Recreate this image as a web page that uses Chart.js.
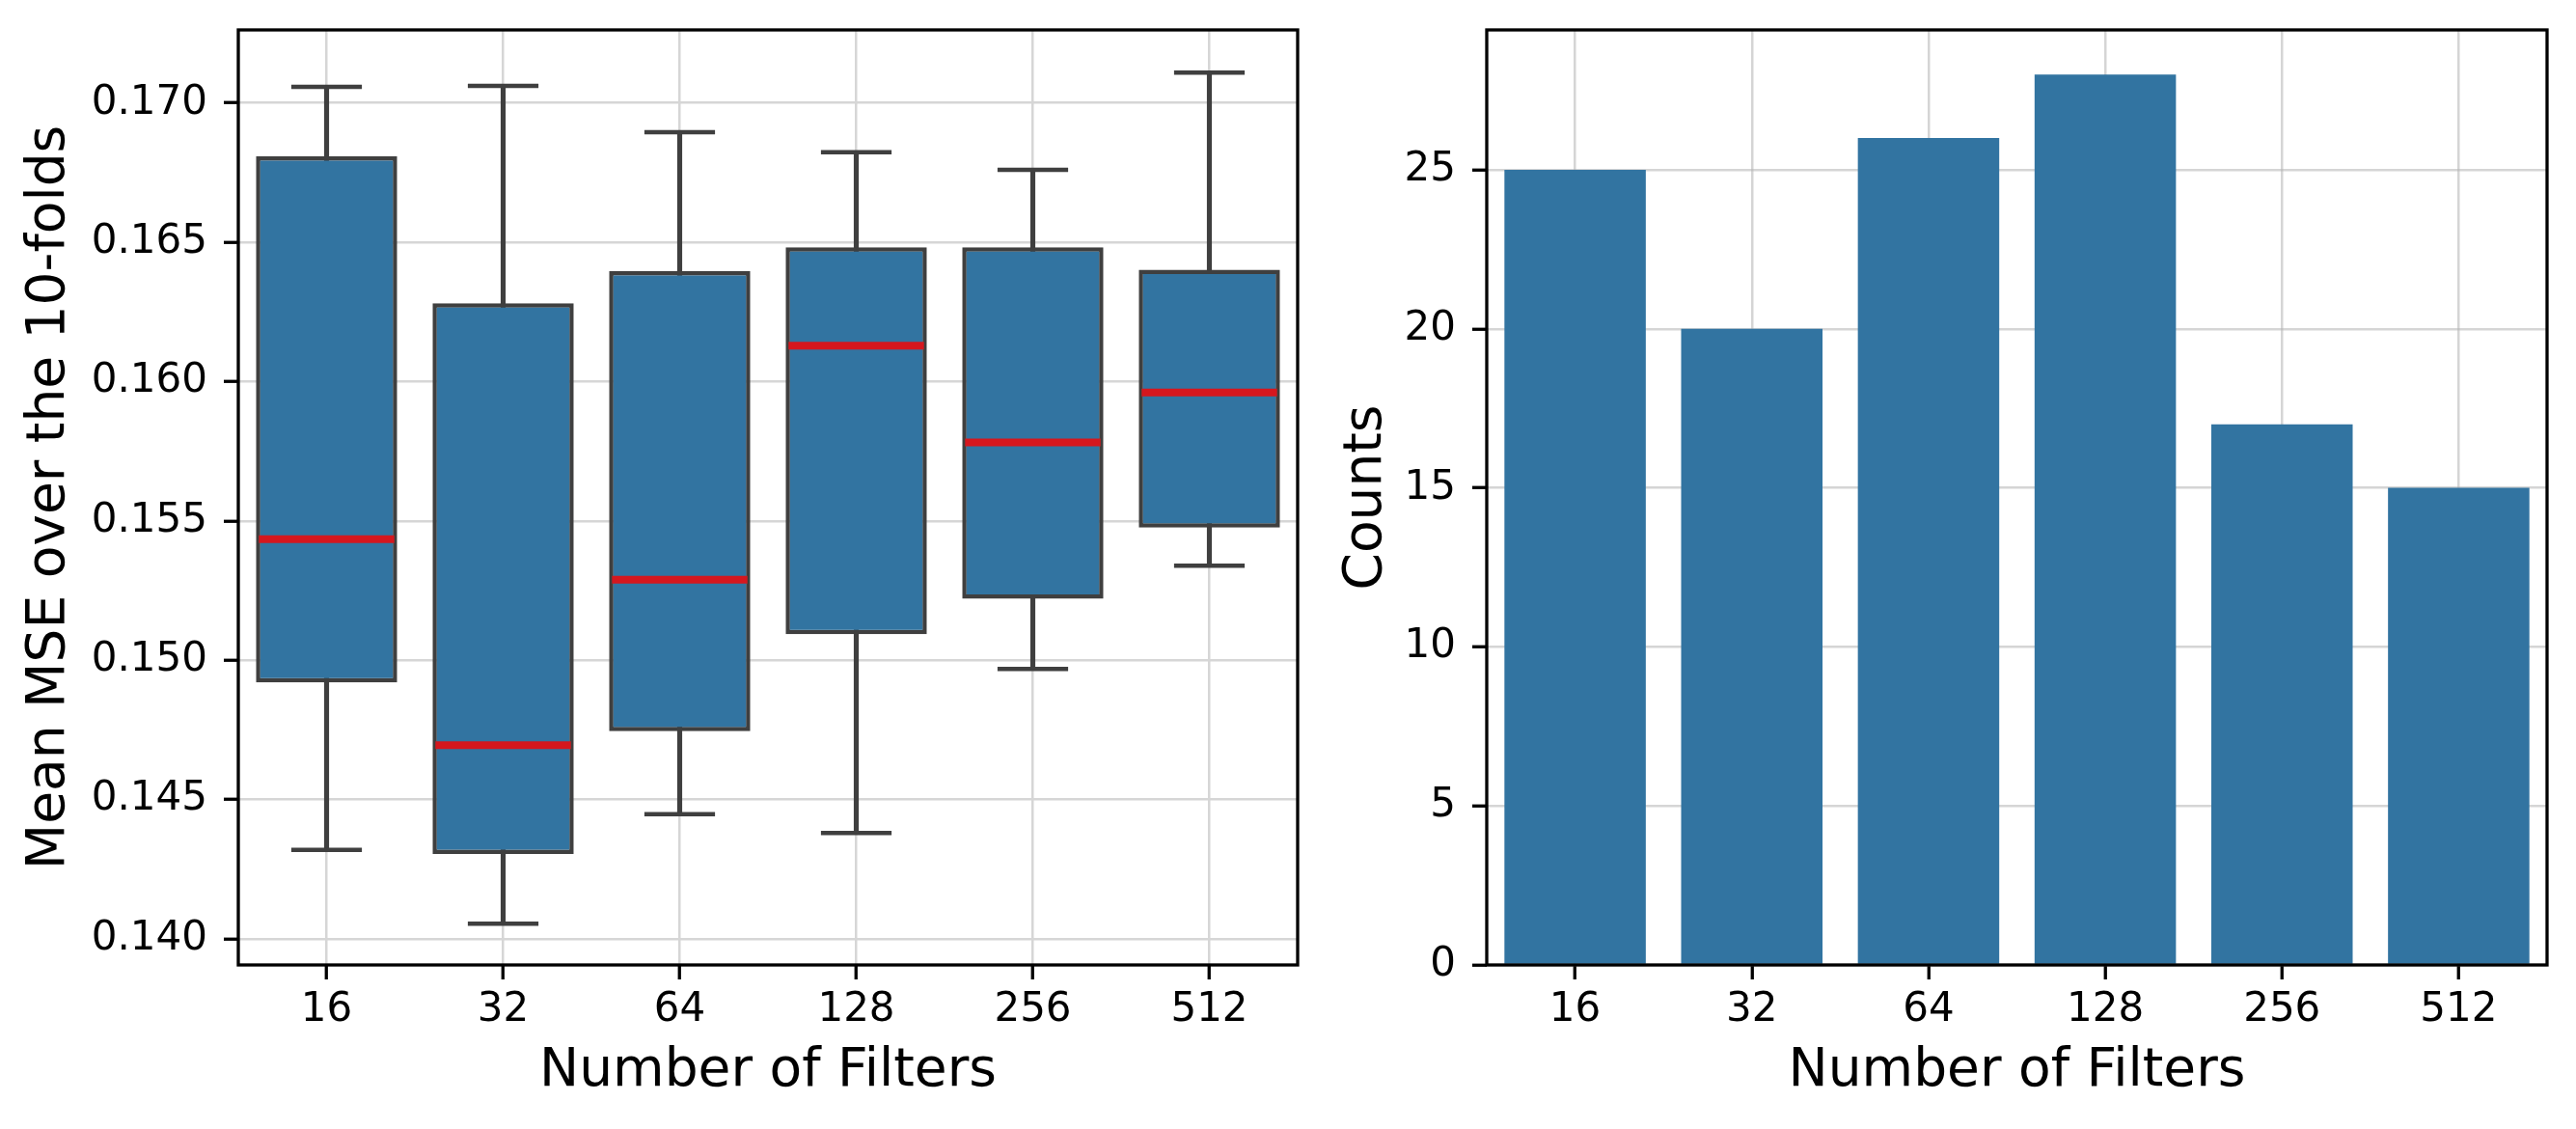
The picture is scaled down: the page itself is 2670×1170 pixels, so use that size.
<!DOCTYPE html>
<html>
<head>
<meta charset="utf-8">
<script src="https://cdn.jsdelivr.net/npm/chart.js@4.4.1/dist/chart.umd.min.js"></script>
<style>
  html, body { margin: 0; padding: 0; background: #fff; }
  body { width: 2670px; height: 1170px; position: relative; overflow: hidden; }
  .panel { position: absolute; top: 0; height: 1170px; }
  #left-panel { left: 0; width: 1400px; }
  #right-panel { left: 1360px; width: 1310px; }
</style>
</head>
<body>
<div class="panel" id="left-panel"><canvas id="box-chart"></canvas></div>
<div class="panel" id="right-panel"><canvas id="count-chart"></canvas></div>
<script>
// data
const filters = ['16', '32', '64', '128', '256', '512'];
const whiskerLow  = [0.14319, 0.14054, 0.14447, 0.14380, 0.14968, 0.15339];
const q1          = [0.14920, 0.14304, 0.14745, 0.15093, 0.15220, 0.15476];
const medians     = [0.15434, 0.14695, 0.15289, 0.16129, 0.15781, 0.15961];
const q3          = [0.16808, 0.16281, 0.16396, 0.16482, 0.16482, 0.16401];
const whiskerHigh = [0.17058, 0.17061, 0.16895, 0.16823, 0.16760, 0.17109];
const mseTicks = [0.140, 0.145, 0.150, 0.155, 0.160, 0.165, 0.170];

const counts = [25, 20, 26, 28, 17, 15];
const countTicks = [0, 5, 10, 15, 20, 25];

// styles
const BLUE = '#3274a1';
const EDGE = '#3f3f3f';
const RED = '#d5171e';
const FONT = 'DejaVu Sans';
const TICK_SIZE = 42;
const LABEL_SIZE = 55;

Chart.defaults.font.family = FONT;
Chart.defaults.color = '#000';
Chart.defaults.animation = false;
Chart.defaults.responsive = true;
Chart.defaults.maintainAspectRatio = false;

// spines around plot area
const framePlugin = {
    id: 'frame',
    afterDraw(chart) {
        const a = chart.chartArea;
        const ctx = chart.ctx;
        ctx.save();
        ctx.strokeStyle = '#000';
        ctx.lineWidth = 3.3;
        ctx.strokeRect(a.left, a.top, a.right - a.left, a.bottom - a.top);
        ctx.restore();
    }
};

function boxWidth(ctx) {
    const xs = ctx.chart.scales.x;
    return xs.width / filters.length * 0.8;
}

function xAxis(gridColor) {
    return {
        type: 'category',
        offset: true,
        afterFit: s => { s.height = 170; s.paddingLeft = 0; s.paddingRight = 0; },
        grid: { offset: false, color: gridColor, lineWidth: 2.5, tickLength: 15, tickColor: '#000', tickWidth: 3.3 },
        border: { display: false },
        ticks: { font: { size: TICK_SIZE }, padding: 7, maxRotation: 0 },
        title: { display: true, text: 'Number of Filters', font: { size: LABEL_SIZE }, padding: { top: 0, bottom: 26 } }
    };
}

// 왼쪽: 박스플롯
new Chart(document.getElementById('box-chart'), {
    type: 'bar',
    data: {
        labels: filters,
        datasets: [
            {
                type: 'line',
                label: 'median',
                data: medians,
                order: 0,
                showLine: false,
                pointStyle: 'line',
                pointRadius: ctx => boxWidth(ctx) / 2 - 3,
                pointBorderColor: RED,
                pointBorderWidth: 8,
                pointBackgroundColor: RED
            },
            {
                type: 'line',
                label: 'cap high',
                data: whiskerHigh,
                order: 1,
                showLine: false,
                pointStyle: 'line',
                pointRadius: ctx => boxWidth(ctx) / 4,
                pointBorderColor: EDGE,
                pointBorderWidth: 4.5
            },
            {
                type: 'line',
                label: 'cap low',
                data: whiskerLow,
                order: 1,
                showLine: false,
                pointStyle: 'line',
                pointRadius: ctx => boxWidth(ctx) / 4,
                pointBorderColor: EDGE,
                pointBorderWidth: 4.5
            },
            {
                label: 'box',
                data: filters.map((f, i) => [q1[i], q3[i]]),
                order: 2,
                grouped: false,
                backgroundColor: BLUE,
                borderColor: EDGE,
                borderWidth: 4.5,
                borderSkipped: false,
                categoryPercentage: 0.8,
                barPercentage: 1.0
            },
            {
                label: 'whisker',
                data: filters.map((f, i) => [whiskerLow[i], whiskerHigh[i]]),
                order: 3,
                grouped: false,
                backgroundColor: EDGE,
                borderWidth: 0,
                barThickness: 4.5
            }
        ]
    },
    options: {
        layout: { padding: { left: 0, top: 31, right: 55, bottom: 0 } },
        plugins: { legend: { display: false }, tooltip: { enabled: false } },
        scales: {
            x: xAxis('#d6d6d6'),
            y: {
                type: 'linear',
                min: 0.13906,
                max: 0.17262,
                afterFit: s => { s.width = 247; s.paddingTop = 0; s.paddingBottom = 0; },
                afterBuildTicks: s => { s.ticks = mseTicks.map(v => ({ value: v })); },
                grid: { color: '#d6d6d6', lineWidth: 2.5, tickLength: 15, tickColor: '#000', tickWidth: 3.3 },
                border: { display: false },
                ticks: { font: { size: TICK_SIZE }, padding: 17, callback: v => v.toFixed(3) },
                title: { display: true, text: 'Mean MSE over the 10-folds', font: { size: LABEL_SIZE }, padding: { top: 19, bottom: 0 } }
            }
        }
    },
    plugins: [framePlugin]
});

// 오른쪽: 막대 그래프
const overGrid = 'rgba(178,178,178,0.55)';
const countX = xAxis(overGrid);
countX.z = 1;
new Chart(document.getElementById('count-chart'), {
    type: 'bar',
    data: {
        labels: filters,
        datasets: [{
            label: 'Counts',
            data: counts,
            backgroundColor: BLUE,
            borderWidth: 0,
            categoryPercentage: 0.8,
            barPercentage: 1.0
        }]
    },
    options: {
        layout: { padding: { left: 0, top: 31, right: 30, bottom: 0 } },
        plugins: { legend: { display: false }, tooltip: { enabled: false } },
        scales: {
            x: countX,
            y: {
                type: 'linear',
                min: 0,
                max: 29.4,
                z: 1,
                afterFit: s => { s.width = 181; s.paddingTop = 0; s.paddingBottom = 0; },
                afterBuildTicks: s => { s.ticks = countTicks.map(v => ({ value: v })); },
                grid: { color: overGrid, lineWidth: 2.5, tickLength: 15, tickColor: '#000', tickWidth: 3.3 },
                border: { display: false },
                ticks: { font: { size: TICK_SIZE }, padding: 17 },
                title: { display: true, text: 'Counts', font: { size: LABEL_SIZE }, padding: { top: 24, bottom: 0 } }
            }
        }
    },
    plugins: [framePlugin]
});
</script>
</body>
</html>
